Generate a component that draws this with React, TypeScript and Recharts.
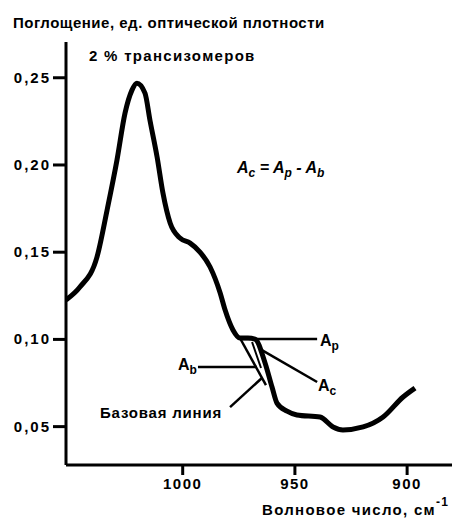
import React from 'react';
import { LineChart, Line, XAxis, YAxis, ReferenceLine } from 'recharts';

// wave number, cm-1 (axis runs from high to low)
const wavenumber = [
  1052, 1045.8, 1038.2, 1033.7, 1029.3, 1025.7, 1022.6, 1020.4, 1016.8, 1014.6,
  1011.4, 1008.8, 1005.6, 1001.2, 996.7, 992.3, 987.8, 983.3, 981.1, 977.6,
  974.5, 970.9, 967.8, 963.3, 960.2, 958.0, 953.5, 949.1, 938.8, 933.0,
  928.6, 919.6, 910.7, 901.8, 896.5,
];
// absorbance, optical density units
const absorbance = [
  0.1226, 0.13, 0.1472, 0.1741, 0.2027, 0.2297, 0.2429, 0.2469, 0.2412, 0.2257,
  0.2045, 0.1839, 0.1667, 0.1581, 0.1552, 0.1501, 0.1415, 0.1266, 0.1168, 0.1054,
  0.1008, 0.1008, 0.1002, 0.0865, 0.0727, 0.0635, 0.0589, 0.0567, 0.0555, 0.0498,
  0.0481, 0.0498, 0.0555, 0.067, 0.0721,
];

const xTicks = [1000, 950, 900];
const yTicks = [0.05, 0.1, 0.15, 0.2, 0.25];

// annotation segments, in data units [wn, A]
const baseLine = [[974.5, 0.1008], [962.9, 0.0738]];
const peakLine = [[974.5, 0.1002], [940.1, 0.1002]];
const baseLevelLine = [[993.2, 0.0842], [966.9, 0.0842]];
const heightLine = [[969.1, 0.0985], [965.1, 0.0836]];
const correctedLine = [[964.7, 0.0939], [940.1, 0.0756]];
const baseLeader = [[964.7, 0.0779], [978.9, 0.0612]];

const data = wavenumber.map((wn, i) => ({ wn, a: absorbance[i] }));

const font = '"Liberation Sans", Arial, sans-serif';

const seg = (s: number[][]) => s.map(([x, y]) => ({ x, y }));

const YTick = (props: any) => {
  const { x, y, payload } = props;
  return (
    <text x={x} y={y} dy={5} textAnchor="end" fontFamily={font} fontWeight="bold"
      fontSize={15} letterSpacing={2} fill="#000">
      {payload.value.toFixed(2).replace('.', ',')}
    </text>
  );
};

const XTick = (props: any) => {
  const { x, y, payload } = props;
  return (
    <text x={x} y={y} dy={12} textAnchor="middle" fontFamily={font} fontWeight="bold"
      fontSize={15} letterSpacing={1.5} fill="#000">
      {payload.value}
    </text>
  );
};

const Sub = ({ children }: { children: string }) => (
  <tspan fontSize={12} dy={4}>{children}</tspan>
);

export default function App() {
  const lineProps = { stroke: '#000', strokeWidth: 2.5, ifOverflow: 'visible' as const };
  return (
    <div style={{ position: 'absolute', left: 0, top: 0, width: 454, height: 523, background: '#fff' }}>
      <LineChart width={454} height={523} data={data} margin={{ top: 42, right: 2, bottom: 0, left: 0 }}>
        <XAxis dataKey="wn" type="number" domain={[880, 1052]} reversed ticks={xTicks}
          allowDataOverflow height={58} tickSize={10} tick={<XTick />}
          axisLine={{ stroke: '#000', strokeWidth: 3 }} tickLine={{ stroke: '#000', strokeWidth: 3 }} />
        <YAxis type="number" domain={[0.028, 0.2705]} ticks={yTicks} allowDataOverflow width={66}
          tickSize={13} tick={<YTick />}
          axisLine={{ stroke: '#000', strokeWidth: 3 }} tickLine={{ stroke: '#000', strokeWidth: 3 }} />
        <ReferenceLine segment={seg(baseLine)} {...lineProps} />
        <ReferenceLine segment={seg(peakLine)} {...lineProps} />
        <ReferenceLine segment={seg(baseLevelLine)} {...lineProps} />
        <ReferenceLine segment={seg(heightLine)} {...lineProps} strokeWidth={2} />
        <ReferenceLine segment={seg(correctedLine)} {...lineProps} />
        <ReferenceLine segment={seg(baseLeader)} {...lineProps} />
        <Line dataKey="a" type="monotone" stroke="#000" strokeWidth={5} dot={false}
          isAnimationActive={false} />
      </LineChart>
      <svg width={454} height={523} style={{ position: 'absolute', left: 0, top: 0, pointerEvents: 'none' }}
        fontFamily={font} fontWeight="bold" fill="#000">
        <text x={13} y={28} fontSize={15} letterSpacing={0.5}>Поглощение, ед. оптической плотности</text>
        <text x={89} y={61} fontSize={15} letterSpacing={1.3}>2 % трансизомеров</text>
        <text x={237} y={173} fontSize={16} fontStyle="italic">
          A<Sub>c</Sub><tspan dy={-4}> = A</tspan><Sub>p</Sub><tspan dy={-4}> - A</tspan><Sub>b</Sub>
        </text>
        <text x={320} y={346} fontSize={16}>A<Sub>p</Sub></text>
        <text x={178} y={370} fontSize={16}>A<Sub>b</Sub></text>
        <text x={318} y={391} fontSize={16}>A<Sub>c</Sub></text>
        <text x={100} y={418} fontSize={15} letterSpacing={0.8}>Базовая линия</text>
        <text x={262} y={515} fontSize={15} letterSpacing={1.3}>
          Волновое число, см<tspan fontSize={12} dy={-9}>-1</tspan>
        </text>
      </svg>
    </div>
  );
}
